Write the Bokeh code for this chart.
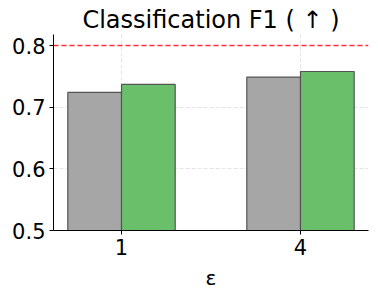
from bokeh.plotting import figure
from bokeh.models import Span, FixedTicker, ColumnDataSource
from bokeh.embed import file_html
from bokeh.resources import INLINE

epsilons = ["1", "4"]
baseline = [0.724, 0.749]
ours = [0.737, 0.758]
y_ticks = [0.5, 0.6, 0.7, 0.8]
reference = 0.8

xs = list(range(len(epsilons)))
w = 0.3
src = ColumnDataSource(dict(
    xb=[x - w / 2 for x in xs], xo=[x + w / 2 for x in xs],
    base=baseline, ours=ours))

p = figure(frame_width=315, frame_height=196, output_backend="svg",
           toolbar_location=None, x_range=(-0.38, 1.38), y_range=(0.5, 0.818),
           min_border_left=53, min_border_right=1, min_border_top=34,
           min_border_bottom=10, title="Classification F1 ( ↑ )")
p.outline_line_color = None
p.title.text_font = "DejaVu Sans"
p.title.text_font_size = "24px"
p.title.text_font_style = "normal"
p.title.text_color = "black"
p.title.align = "center"
p.title.standoff = 2

p.vbar(x="xb", top="base", bottom=0.5, width=w, source=src,
       fill_color="#a6a6a6", line_color="#555555", line_width=1.2)
p.vbar(x="xo", top="ours", bottom=0.5, width=w, source=src,
       fill_color="#6abf6a", line_color="#555555", line_width=1.2)

p.add_layout(Span(location=reference, dimension="width", line_color="#ff3030",
                  line_dash="5 3", line_width=1.5))

for ax in (p.xaxis, p.yaxis):
    ax.major_label_text_font = "DejaVu Sans"
    ax.major_label_text_font_size = "21px"
    ax.major_label_text_color = "black"
    ax.axis_line_color = "black"
    ax.major_tick_line_color = "black"
    ax.major_tick_out = 4
    ax.major_tick_in = 0
    ax.minor_tick_line_color = None
    ax.major_label_standoff = 4

p.xaxis.ticker = FixedTicker(ticks=xs)
p.xaxis.major_label_overrides = {i: e for i, e in enumerate(epsilons)}
p.yaxis.ticker = FixedTicker(ticks=y_ticks)
p.xaxis.axis_label = "ε"
p.xaxis.axis_label_text_font = "DejaVu Sans"
p.xaxis.axis_label_text_font_size = "20px"
p.xaxis.axis_label_text_font_style = "normal"
p.xaxis.axis_label_text_color = "black"
p.xaxis.axis_label_standoff = 8

p.grid.grid_line_color = "#dddddd"
p.grid.grid_line_dash = "4 2"
p.grid.grid_line_alpha = 0.8
p.xgrid.ticker = FixedTicker(ticks=xs)
p.ygrid.ticker = FixedTicker(ticks=y_ticks)

open("out.html", "w").write(file_html(p, INLINE))
